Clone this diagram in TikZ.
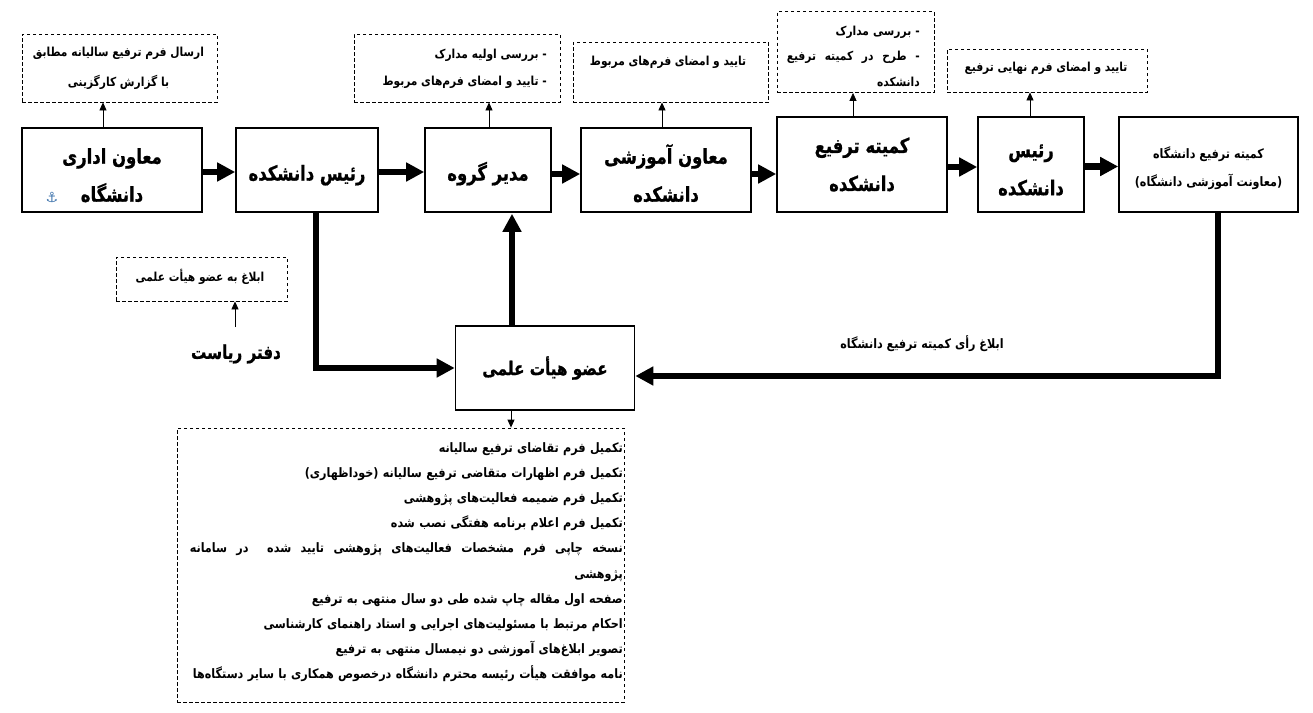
\documentclass[tikz,border=0pt]{standalone}
\usepackage{fontspec}
\usetikzlibrary{arrows.meta,calc}
\newfontfamily\fa[Script=Arabic,FakeStretch=0.86]{DejaVu Sans}
\newfontfamily\fah[Script=Arabic,FakeStretch=0.8,FakeBold=0.8]{DejaVu Sans}
\newfontfamily\dv{DejaVu Sans}
\TeXXeTstate=1
\newcommand\rtl[1]{\beginR #1\endR}
\newcommand\pushdown[1]{\rule{0pt}{#1}}
\definecolor{anchorblue}{HTML}{3F74AD}
\tikzset{
  mainbox/.style={draw=black,line width=1.6pt,fill=white,inner sep=0pt,align=center},
  dashbox/.style={draw=black,line width=0.8pt,dash pattern=on 3.5pt off 2.5pt,inner sep=0pt},
  big/.style={font=\fah\bfseries\fontsize{20.5}{38}\selectfont},
  bigless/.style={font=\fah\bfseries\fontsize{19}{38}\selectfont},
  small/.style={font=\fa\bfseries\fontsize{12.4}{27}\selectfont,inner sep=0pt,align=right},
  list/.style={font=\fa\bfseries\fontsize{13}{25.2}\selectfont,inner sep=0pt,align=right},
  heavy/.style={line width=6.5pt,-{Triangle[length=18pt,width=18pt]},line join=miter},
  light/.style={line width=0.8pt,-{Triangle[length=8pt,width=7pt]}},
}
\begin{document}
\begin{tikzpicture}[x=1pt,y=-1pt]
\useasboundingbox (0,0) rectangle (1313,712);
% main boxes
\node[mainbox,big,minimum width=180pt,minimum height=84pt] (a) at (112,170) {\pushdown{26pt}\rtl{معاون اداری}\\\rtl{دانشگاه}};
\node[mainbox,big,minimum width=142pt,minimum height=84pt] (b) at (307,170) {\pushdown{26pt}\rtl{رئیس دانشکده}};
\node[mainbox,big,minimum width=126pt,minimum height=84pt] (c) at (488,170) {\pushdown{26pt}\rtl{مدیر گروه}};
\node[mainbox,big,minimum width=170pt,minimum height=84pt] (d) at (666,170) {\pushdown{26pt}\rtl{معاون آموزشی}\\\rtl{دانشکده}};
\node[mainbox,big,minimum width=170pt,minimum height=95pt] (e) at (862,164.5) {\rtl{کمیته ترفیع}\\\rtl{دانشکده}};
\node[mainbox,big,minimum width=106pt,minimum height=95pt] (f) at (1031,164.5) {\pushdown{24pt}\rtl{رئیس}\\\rtl{دانشکده}};
\node[mainbox,minimum width=179pt,minimum height=95pt,font=\fa\bfseries\fontsize{13}{28}\selectfont] (g) at (1208.5,164.5) {\pushdown{20pt}\rtl{کمیته ترفیع دانشگاه}\\\rtl{(معاونت آموزشی دانشگاه)}};
\node[mainbox,bigless,minimum width=179pt,minimum height=84pt] (h) at (545,368) {\rtl{عضو هیأت علمی}};
\node[bigless,inner sep=0pt] (office) at (236,354) {\rtl{دفتر ریاست}};
\node[text=anchorblue,inner sep=0pt,font=\dv\fontsize{14}{14}\selectfont] (anc) at (52,197) {⚓};
\coordinate (dbstart) at (235,327);
% dashed boxes
\node[dashbox,minimum width=195pt,minimum height=68pt] (da) at (119.5,68) {};
\node[dashbox,minimum width=206pt,minimum height=68pt] (dc) at (457,68) {};
\node[dashbox,minimum width=195.5pt,minimum height=60pt] (dd) at (670.75,72) {};
\node[dashbox,minimum width=157pt,minimum height=81pt] (de) at (855.5,52) {};
\node[dashbox,minimum width=200pt,minimum height=43pt] (df) at (1047,70.5) {};
\node[dashbox,minimum width=171pt,minimum height=44pt] (db) at (201.5,279) {};
\node[dashbox,minimum width=447pt,minimum height=274pt] (dh) at (400.5,565) {};
% texts of the dashed boxes
\node[small,align=center,font=\fa\bfseries\fontsize{12.4}{30}\selectfont] (ta) at (118.5,68.5) {\rtl{ارسال فرم ترفیع سالیانه مطابق}\\\rtl{با گزارش کارگزینی}};
\node[small,anchor=east] (tc) at (547,69) {\rtl{- بررسی اولیه مدارک}\\\rtl{- تایید و امضای فرم‌های مربوط}};
\node[small] (td) at (668,62.5) {\rtl{تایید و امضای فرم‌های مربوط}};
\node[small,text width=133pt,anchor=east,font=\fa\bfseries\fontsize{12.4}{25.5}\selectfont] (te) at (920,56) {\rtl{- بررسی مدارک}\\\leavevmode\hbox to 133pt{\beginR -\hfil طرح\hfil در\hfil کمیته\hfil ترفیع\endR}\\\rtl{دانشکده}};
\node[small] (tf) at (1046,68.5) {\rtl{تایید و امضای فرم نهایی ترفیع}};
\node[small] (tb) at (200,277) {\rtl{ابلاغ به عضو هیأت علمی}};
\node[small,font=\fa\bfseries\fontsize{13}{27}\selectfont] (tg) at (922,344) {\rtl{ابلاغ رأی کمیته ترفیع دانشگاه}};
\node[list,text width=433pt,anchor=north east] (th) at (623,442) {\rtl{تکمیل فرم تقاضای ترفیع سالیانه}\\
\rtl{تکمیل فرم اظهارات متقاضی ترفیع سالیانه (خوداظهاری)}\\
\rtl{تکمیل فرم ضمیمه فعالیت‌های پژوهشی}\\
\rtl{تکمیل فرم اعلام برنامه هفتگی نصب شده}\\
\leavevmode\hbox to 433pt{\beginR نسخه\hfil چاپی\hfil فرم\hfil مشخصات\hfil فعالیت‌های\hfil پژوهشی\hfil تایید\hfil شده\hfil\hfil در\hfil سامانه\endR}\\
\rtl{پژوهشی}\\
\rtl{صفحه اول مقاله چاپ شده طی دو سال منتهی به ترفیع}\\
\rtl{احکام مرتبط با مسئولیت‌های اجرایی و استاد راهنمای کارشناسی}\\
\rtl{تصویر ابلاغ‌های آموزشی دو نیمسال منتهی به ترفیع}\\
\rtl{نامه موافقت هیأت رئیسه محترم دانشگاه درخصوص همکاری با سایر دستگاه‌ها}};
% thick connectors
\draw[heavy] ([yshift=-2pt]a.east) -- ([yshift=-2pt]b.west);
\draw[heavy] ([yshift=-2pt]b.east) -- ([yshift=-2pt]c.west);
\draw[heavy] ([yshift=-4pt]c.east) -- ([yshift=-4pt]d.west);
\draw[heavy] ([yshift=-4pt]d.east) -- ([yshift=-9.5pt]e.west);
\draw[heavy] ([yshift=-2.5pt]e.east) -- ([yshift=-2.5pt]f.west);
\draw[heavy] ([yshift=-2pt]f.east) -- ([yshift=-2pt]g.west);
\draw[heavy] ([xshift=9pt]b.south) |- (h.west);
\draw[heavy] ([xshift=-33pt]h.north) -- ([xshift=24pt,yshift=-1pt]c.south);
\draw[heavy] ([xshift=9.5pt]g.south) |- ([yshift=-8pt]h.east);
% thin connectors
\draw[light] ([xshift=-9pt]a.north) -- ([xshift=-16.5pt]da.south);
\draw[light] ([xshift=1pt]c.north) -- ([xshift=32pt]dc.south);
\draw[light] ([xshift=-4pt]d.north) -- ([xshift=-8.75pt]dd.south);
\draw[light] ([xshift=-9pt]e.north) -- ([xshift=-2.5pt]de.south);
\draw[light] ([xshift=-1pt]f.north) -- ([xshift=-17pt]df.south);
\draw[light] (dbstart) -- ([xshift=33.5pt]db.south);
\draw[light] ([xshift=-34pt]h.south) -- ([xshift=110.5pt]dh.north);
\end{tikzpicture}
\end{document}
